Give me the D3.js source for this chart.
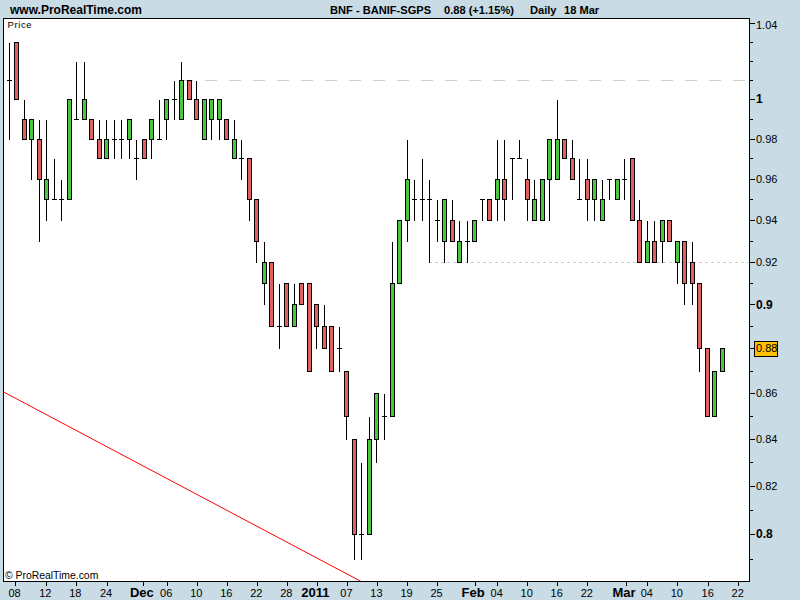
<!DOCTYPE html>
<html><head><meta charset="utf-8">
<script src="https://cdn.jsdelivr.net/npm/d3@7"></script>
<style>html,body{margin:0;padding:0;background:#c9dbe5;overflow:hidden}svg{display:block}
text{font-family:"Liberation Sans",Arial,sans-serif;fill:#000}</style></head><body>
<svg id="c" width="800" height="600"></svg>
<script>
const opens  =[1.01,1.03,.99,.98,.98,.95,.95,.95,.95,.99,.99,.99,.98,.97,.98,.98,.98,.97,.98,.98,.98,.99,1.00,.99,1.01,1.00,.98,.99,.99,.99,.97,.97,.97,.95,.91,.92,.89,.91,.89,.91,.91,.90,.89,.89,.88,.87,.84,.80,.80,.84,.85,.85,.91,.94,.95,.95,.95,.94,.93,.94,.92,.93,.93,.95,.95,.95,.96,.97,.97,.96,.94,.94,.96,.96,.98,.97,.95,.96,.95,.94,.96,.95,.96,.97,.94,.92,.93,.93,.94,.92,.93,.92,.91,.88,.85,.87];
const closes =[1.01,1.00,.98,.99,.96,.96,.95,.95,1.00,.99,1.00,.98,.97,.98,.98,.98,.99,.97,.97,.99,.98,1.00,1.00,1.01,1.00,.99,1.00,1.00,1.00,.98,.98,.97,.95,.93,.92,.89,.89,.89,.90,.90,.87,.89,.88,.87,.88,.85,.80,.80,.84,.86,.85,.91,.94,.96,.95,.95,.95,.94,.95,.93,.93,.93,.94,.95,.94,.96,.95,.97,.97,.95,.95,.96,.98,.98,.97,.96,.95,.95,.96,.95,.96,.96,.96,.94,.92,.93,.92,.94,.93,.93,.91,.91,.88,.85,.87,.88];
const highs  =[1.03,1.03,1.00,.99,.99,.99,.97,.96,1.00,1.02,1.02,.99,.99,.99,.99,.99,.99,.98,.98,.99,1.00,1.00,1.01,1.02,1.01,1.01,1.00,1.00,1.00,.99,.99,.98,.97,.95,.93,.92,.91,.91,.91,.91,.91,.90,.90,.89,.89,.87,.84,.83,.85,.86,.86,.93,.94,.98,.96,.97,.96,.95,.95,.95,.94,.94,.94,.95,.95,.98,.98,.97,.98,.97,.96,.96,.98,1.00,.98,.98,.97,.97,.96,.96,.96,.96,.97,.97,.95,.94,.94,.94,.94,.93,.93,.93,.91,.88,.87,.88];
const lows   =[.98,1.00,.98,.96,.93,.94,.95,.94,.95,.99,.99,.98,.97,.97,.97,.97,.97,.96,.97,.97,.98,.98,.99,.99,1.00,.99,.98,.98,.98,.98,.97,.96,.94,.92,.90,.89,.88,.89,.89,.90,.87,.88,.88,.87,.87,.84,.79,.79,.80,.83,.84,.85,.91,.93,.94,.94,.92,.93,.92,.93,.92,.92,.93,.94,.94,.94,.94,.95,.97,.94,.94,.94,.94,.96,.97,.96,.95,.94,.94,.94,.95,.95,.95,.94,.92,.92,.92,.92,.93,.91,.90,.90,.87,.85,.85,.87];
const priceTicks=[1.04,1.03,1.02,1.01,1,.99,.98,.97,.96,.95,.94,.93,.92,.91,.9,.89,.88,.87,.86,.85,.84,.83,.82,.81,.8,.79];
const priceLabels=[1.04,.98,.96,.94,.92,.86,.84,.82];
const boldPriceLabels=[1,.9,.8];
const lastPrice=.88;
const dateTicks=[.8,4.9,8.9,13,17.9,21,25,29,33,37,41,45,49,53,57,62,65,69,73,77,82.1,85,89,93.1,97.1];
const dateLabels=["08","12","18","24","Dec","06","10","16","22","28","2011","07","13","19","25","Feb","04","10","16","22","Mar","04","10","16","22"];
const boldDates=["Dec","2011","Feb","Mar"];
const trendIdx=[-0.73,46.85];
const trendPrice=[.8605,.7808];
const supportIdx=[[22.9,98.5],[55.9,98.5]];
const supportPrice=[1.01,.92];
const supportDash=["12,12","3,3"];

const svg=d3.select("#c");
const L=3.5,R=749.5,T=18.5,B=581.5;
const x=d3.scaleLinear().domain([0,95]).range([9,722.45]);
const y=d3.scaleLog().domain([.8,1.04]).range([534,22.7]);
const col=i=>Math.floor(x(i))+.5;
const row=v=>Math.round(y(v))+.5;

svg.append("rect").attr("width",800).attr("height",600).attr("fill","#c9dbe5");
svg.append("rect").attr("x",L).attr("y",T).attr("width",R-L).attr("height",B-T).attr("fill","#fff");

const cp=svg.append("defs").append("clipPath").attr("id","plot").append("rect")
  .attr("x",L).attr("y",T).attr("width",R-L).attr("height",B-T);

const plot=svg.append("g").attr("clip-path","url(#plot)");
supportPrice.forEach((p,k)=>{
  plot.append("line").attr("x1",x(supportIdx[k][0])).attr("x2",x(supportIdx[k][1]))
    .attr("y1",row(p)).attr("y2",row(p)).attr("stroke","#cfcfcf").attr("stroke-width",1)
    .attr("stroke-dasharray",supportDash[k]).attr("shape-rendering","crispEdges");
});
plot.append("path").attr("d",d3.line().x(d=>x(d[0])).y(d=>y(d[1]))(trendIdx.map((t,i)=>[t,trendPrice[i]])))
  .attr("fill","none").attr("stroke","#f00").attr("stroke-width",1);

const idx=d3.range(opens.length);
const g=plot.append("g").attr("shape-rendering","crispEdges");
g.selectAll("line.w").data(idx).join("line").attr("class","w")
  .attr("x1",col).attr("x2",col).attr("y1",i=>row(highs[i])).attr("y2",i=>row(lows[i]))
  .attr("stroke","#000");
g.selectAll("rect.b").data(idx.filter(i=>opens[i]!==closes[i])).join("rect").attr("class","b")
  .attr("x",i=>col(i)-2).attr("width",4)
  .attr("y",i=>row(Math.max(opens[i],closes[i])))
  .attr("height",i=>row(Math.min(opens[i],closes[i]))-row(Math.max(opens[i],closes[i])))
  .attr("fill",i=>closes[i]>opens[i]?"#4cc840":"#e06060").attr("stroke","#000");
g.selectAll("line.d").data(idx.filter(i=>opens[i]===closes[i])).join("line").attr("class","d")
  .attr("x1",i=>col(i)-2.5).attr("x2",i=>col(i)+2.5).attr("y1",i=>row(opens[i])).attr("y2",i=>row(opens[i]))
  .attr("stroke","#000");

svg.append("rect").attr("x",L).attr("y",T).attr("width",R-L).attr("height",B-T)
  .attr("fill","none").attr("stroke","#000").attr("shape-rendering","crispEdges");

// price axis
const ya=svg.append("g").attr("transform",`translate(${R},0)`).call(
  d3.axisRight(y).tickValues(priceTicks).tickSize(5).tickFormat(""));
ya.select(".domain").remove();
ya.selectAll(".tick line").attr("shape-rendering","crispEdges").attr("stroke","#000")
  .attr("x2",d=>(priceLabels.includes(d)||boldPriceLabels.includes(d)||d===lastPrice)?5:3)
  .attr("transform",d=>`translate(0,${row(d)-y(d)-.5})`);
ya.selectAll(".tick text").remove();
const fmt=d=>d3.format("~g")(d);
svg.selectAll("text.py").data(priceLabels.concat(boldPriceLabels)).join("text").attr("class","py")
  .attr("x",756).attr("y",d=>(d===1.04?25:y(d))+4.2)
  .attr("font-size",d=>boldPriceLabels.includes(d)?12:11)
  .attr("font-weight",d=>boldPriceLabels.includes(d)?"bold":"normal")
  .text(fmt);
svg.append("rect").attr("x",754.5).attr("y",341.5).attr("width",23).attr("height",15)
  .attr("fill","#ffc000").attr("stroke","#000").attr("shape-rendering","crispEdges");
svg.append("text").attr("x",756).attr("y",y(lastPrice)+3.8).attr("font-size",11).text(d3.format(".2f")(lastPrice));

// date axis
const xa=svg.append("g").attr("transform",`translate(0,${B})`).call(
  d3.axisBottom(x).tickValues(dateTicks).tickSize(4).tickFormat(""));
xa.select(".domain").remove();
xa.selectAll(".tick line").attr("shape-rendering","crispEdges").attr("stroke","#000");
xa.selectAll(".tick text").remove();
svg.selectAll("text.dx").data(dateTicks).join("text").attr("class","dx")
  .attr("x",(d,i)=>x(d)+(boldDates.includes(dateLabels[i])?-1.5:-.5)).attr("y",597)
  .attr("text-anchor","middle")
  .attr("font-size",(d,i)=>boldDates.includes(dateLabels[i])?13:11)
  .attr("font-weight",(d,i)=>boldDates.includes(dateLabels[i])?"bold":"normal")
  .text((d,i)=>dateLabels[i]);

// titles
svg.append("text").attr("x",10).attr("y",14).attr("font-size",12).attr("font-weight","bold").text("www.ProRealTime.com");
svg.append("text").attr("x",330).attr("y",14).attr("font-size",11.1).attr("font-weight","bold").text("BNF - BANIF-SGPS");
svg.append("text").attr("x",444).attr("y",14).attr("font-size",11.1).attr("font-weight","bold").text("0.88 (+1.15%)");
svg.append("text").attr("x",530).attr("y",14).attr("font-size",11.1).attr("font-weight","bold").text("Daily");
svg.append("text").attr("x",564).attr("y",14).attr("font-size",11.1).attr("font-weight","bold").text("18 Mar");
svg.append("text").attr("x",7.5).attr("y",28).attr("font-size",9.5).attr("letter-spacing",.6).text("Price");
svg.append("text").attr("x",5).attr("y",579).attr("font-size",10.4).text("© ProRealTime.com");
</script></body></html>
